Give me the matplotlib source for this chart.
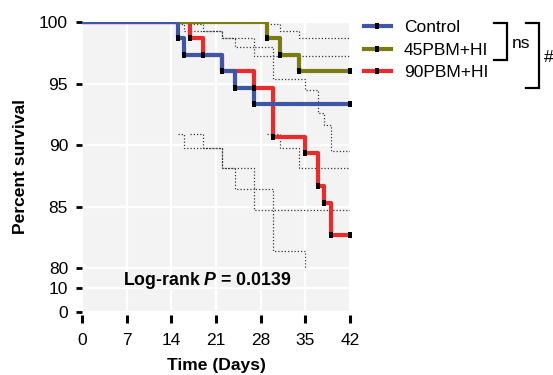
import numpy as np
import matplotlib
matplotlib.use("Agg")
import matplotlib.pyplot as plt
from matplotlib.lines import Line2D

plt.rcParams["font.family"] = ["Liberation Sans", "DejaVu Sans"]
plt.rcParams["mathtext.fontset"] = "custom"
plt.rcParams["mathtext.bfit"] = "Liberation Sans:italic:bold"

# Kaplan-Meier steps (day, % survival)
control_days = [0, 15, 16, 22, 24, 27, 42]
control_surv = [100, 98.67, 97.33, 96.0, 94.67, 93.33, 93.33]
pbm45_days = [0, 29, 31, 34, 42]
pbm45_surv = [100, 98.67, 97.33, 96.0, 96.0]
pbm90_days = [0, 17, 19, 22, 27, 30, 35, 37, 38, 39, 42]
pbm90_surv = [100, 98.67, 97.33, 96.0, 94.67, 90.67, 89.33, 86.67, 85.33, 82.67, 82.67]

# dotted 95% CI lines, they start at the first death of each group
control_ci_days = [15, 16, 22, 24, 27, 42]
control_ci_hi = [99.8, 99.3, 98.7, 98.0, 97.2, 97.2]
control_ci_lo = [90.9, 89.8, 88.1, 86.4, 84.7, 84.7]
pbm45_ci_days = [29, 31, 34, 42]
pbm45_ci_hi = [99.8, 99.3, 98.7, 98.7]
pbm45_ci_lo = [90.9, 89.8, 88.1, 88.1]
pbm90_ci_days = [17, 19, 22, 27, 30, 35, 37, 38, 39, 42]
pbm90_ci_hi = [99.8, 99.3, 98.7, 98.0, 95.4, 94.5, 92.6, 91.6, 89.5, 89.5]
pbm90_ci_lo = [90.9, 89.8, 88.1, 86.4, 81.4, 80.0]  # disappears into the axis break

group_names = ["Control", "45PBM+HI", "90PBM+HI"]
group_colors = ["#3f55a6", "#7a7b12", "#ec2a2c"]

x_ticks = [0, 7, 14, 21, 28, 35, 42]
y_ticks = [0, 10, 80, 85, 90, 95, 100]


def _fwd(y):
    # broken axis: 0-10 squeezed, 10-80 hidden in a gap, 80-100 stretched
    y = np.asarray(y, dtype=float)
    return np.where(y <= 10, y * 2.4,
                    np.where(y <= 80, 24 + (y - 10) * 20 / 70, 44 + (y - 80) * 12.35))


def _inv(v):
    v = np.asarray(v, dtype=float)
    return np.where(v <= 24, v / 2.4,
                    np.where(v <= 44, 10 + (v - 24) * 70 / 20, 80 + (v - 44) / 12.35))


W, H = 553, 375
fig = plt.figure(figsize=(W / 100, H / 100), dpi=100)
ax = fig.add_axes([82 / W, 1 - 312 / H, 268 / W, 290 / H])
ax.set_facecolor("#f2f3f2")
ax.set_yscale("function", functions=(_fwd, _inv))
ax.set_xlim(0, 42)
ax.set_ylim(0, 100)
ax.set_xticks(x_ticks)
ax.set_yticks(y_ticks)
ax.grid(True, color="white", linewidth=1.6, zorder=0)
ax.set_axisbelow(True)
for s in ax.spines.values():
    s.set_visible(False)
ax.spines["bottom"].set_position(("outward", 2.5))
ax.tick_params(axis="x", length=6, width=2.2, pad=6.5, labelsize=12.5)
ax.tick_params(axis="y", length=4.5, width=2, pad=5.5, labelsize=12.5)

# confidence bands
dot = dict(color="#3a3a3a", linewidth=0.9, linestyle=(0, (1, 1.6)),
           drawstyle="steps-post", zorder=2)
ax.plot(control_ci_days, control_ci_hi, **dot)
ax.plot(control_ci_days, control_ci_lo, **dot)
ax.plot(pbm45_ci_days, pbm45_ci_hi, **dot)
ax.plot(pbm45_ci_days, pbm45_ci_lo, **dot)
ax.plot(pbm90_ci_days, pbm90_ci_hi, **dot)
ax.plot(pbm90_ci_days[:len(pbm90_ci_lo)], pbm90_ci_lo, **dot)

rect = [(-3, -5), (3, -5), (3, 5), (-3, 5)]
curves = [(control_days, control_surv), (pbm45_days, pbm45_surv), (pbm90_days, pbm90_surv)]
zorders = [4, 3.5, 3]
for (d, s), c, z in zip(curves, group_colors, zorders):
    ax.plot(d, s, drawstyle="steps-post", color=c, linewidth=3, zorder=z)
    ax.plot(d[1:], s[1:], linestyle="none", marker=rect, color="black",
            markersize=4.8, markeredgewidth=0, zorder=6, clip_on=False)

# white break marks on the left edge
for y_top, y_bot in ((80.4, 79.0), (10.25, 9.4)):
    ax.annotate("", xy=(0.9, y_bot), xytext=(0, y_top),
                arrowprops=dict(arrowstyle="-", color="white", lw=1.6),
                annotation_clip=False)

ax.text(0.468, 0.107, r"Log-rank $\mathbfit{P}$ = 0.0139", transform=ax.transAxes,
        ha="center", va="center", fontsize=12.8, fontweight="bold")

ax.set_xlabel("Time (Days)", fontsize=12.6, fontweight="bold")
ax.set_ylabel("Percent survival", fontsize=12.6, fontweight="bold")
ax.xaxis.set_label_coords(0.5, -0.16)
ax.yaxis.set_label_coords(-0.2, 0.5)

handles = [Line2D([], [], color=c, linewidth=3, marker=rect, markersize=4.8,
                  markerfacecolor="black", markeredgewidth=0) for c in group_colors]
fig.legend(handles, group_names, loc="upper left", bbox_to_anchor=(364 / W, 1 - 20 / H),
           frameon=False, fontsize=12.5, handlelength=1.55, handletextpad=0.75,
           labelspacing=0.42, borderpad=0, borderaxespad=0, numpoints=1)


def px(x, y):
    return x / W, 1 - y / H


def bracket(x0, x1, y0, y1):
    xs, ys = zip(px(x0, y0), px(x1, y0), px(x1, y1), px(x0, y1))
    fig.add_artist(Line2D(xs, ys, color="black", linewidth=1.6,
                          solid_joinstyle="miter", transform=fig.transFigure))


bracket(494, 507, 23, 60)
bracket(526, 538.5, 23, 88)
fig.text(*px(512, 43), "ns", fontsize=12.5, ha="left", va="center")
fig.text(*px(544, 57), "#", fontsize=12.5, ha="left", va="center")

fig.savefig("out.png", dpi=100)
